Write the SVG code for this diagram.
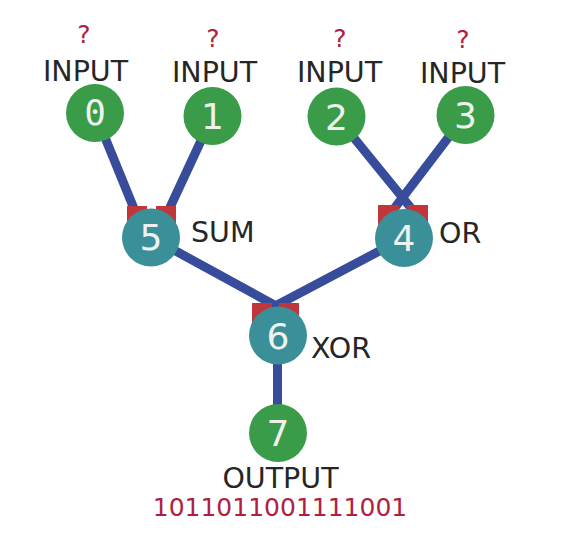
<svg xmlns="http://www.w3.org/2000/svg" width="564" height="559" viewBox="0 0 564 559">
<style>
.edge{stroke:#374c9b;stroke-width:9;fill:none}
.port{fill:#c1363a}
.in{fill:#3a9b48}
.gate{fill:#3a8f99}
.num{font-family:"DejaVu Sans",sans-serif;font-size:36px;fill:#eef2ee;text-anchor:middle}
.mono{font-family:"DejaVu Sans Mono",monospace}
.lbl{font-family:"DejaVu Sans",sans-serif;font-size:28.5px;fill:#262626}
.q{font-family:"DejaVu Sans",sans-serif;font-size:25px;fill:#b01f42;text-anchor:middle}
.mid{text-anchor:middle}
</style>
<rect width="564" height="559" fill="#ffffff"/>
<g id="connectors">
<line class="edge" x1="95" y1="113" x2="137" y2="216"/>
<line class="edge" x1="212.5" y1="116" x2="166" y2="216"/>
<line class="edge" x1="336.5" y1="116.5" x2="417.5" y2="216"/>
<line class="edge" x1="465.5" y1="115" x2="388.5" y2="216"/>
<line class="edge" x1="151" y1="237.5" x2="289" y2="313"/>
<line class="edge" x1="404" y1="238" x2="262" y2="313"/>
<line class="edge" x1="277.5" y1="335.5" x2="277.5" y2="433"/>
</g>
<g id="node0">
<text class="q" x="84" y="43">?</text>
<text class="lbl mid" x="85.5" y="81">INPUT</text>
<circle class="in" cx="95" cy="113" r="29"/>
<text class="num mono" x="95" y="125">0</text>
</g>
<g id="node1">
<text class="q" x="213" y="47">?</text>
<text class="lbl mid" x="214.5" y="82">INPUT</text>
<circle class="in" cx="212.5" cy="116" r="29"/>
<text class="num" x="212.5" y="129">1</text>
</g>
<g id="node2">
<text class="q" x="340" y="47">?</text>
<text class="lbl mid" x="339.5" y="82">INPUT</text>
<circle class="in" cx="336.5" cy="116.5" r="29"/>
<text class="num" x="336.5" y="129.5">2</text>
</g>
<g id="node3">
<text class="q" x="463" y="48">?</text>
<text class="lbl mid" x="462.5" y="83">INPUT</text>
<circle class="in" cx="465.5" cy="115" r="29"/>
<text class="num" x="465.5" y="128">3</text>
</g>
<g id="node5">
<rect class="port" x="127" y="206" width="20" height="20"/>
<rect class="port" x="156" y="206" width="20" height="20"/>
<circle class="gate" cx="151" cy="237.5" r="29"/>
<text class="num" x="151" y="250">5</text>
<text class="lbl" x="191" y="242">SUM</text>
</g>
<g id="node4">
<rect class="port" x="378" y="205" width="21" height="20"/>
<rect class="port" x="407" y="205" width="21" height="20"/>
<circle class="gate" cx="404" cy="238" r="29"/>
<text class="num" x="404" y="251">4</text>
<text class="lbl" x="439" y="243">OR</text>
</g>
<g id="node6">
<rect class="port" x="252" y="303" width="20" height="20"/>
<rect class="port" x="279" y="303" width="20" height="20"/>
<circle class="gate" cx="278" cy="335.5" r="29"/>
<text class="num" x="278" y="348.5">6</text>
<text class="lbl" x="311" y="358">XOR</text>
</g>
<g id="node7">
<circle class="in" cx="278" cy="433" r="29"/>
<text class="num" x="278" y="446">7</text>
<text class="lbl mid" x="280.5" y="488">OUTPUT</text>
<text class="q" x="280" y="516">1011011001111001</text>
</g>
</svg>
